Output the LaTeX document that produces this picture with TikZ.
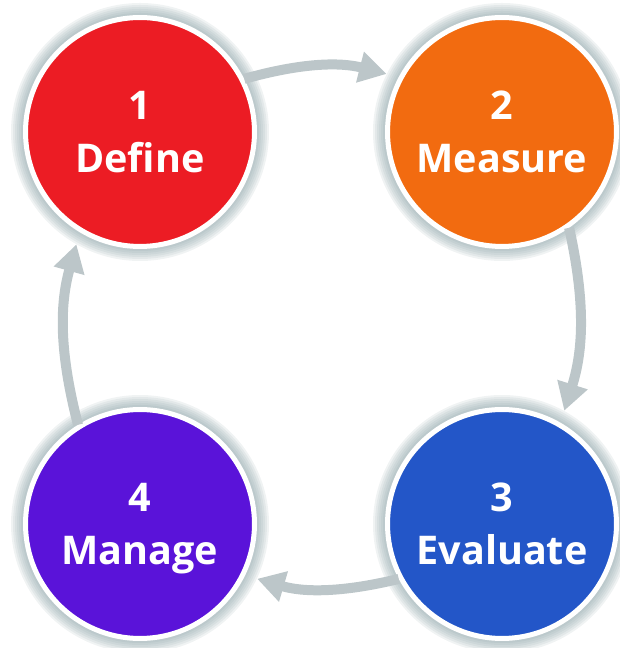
\documentclass[tikz,border=0pt]{standalone}
\usepackage{fontspec}
\setmainfont{Open Sans}
\usetikzlibrary{arrows.meta}

\definecolor{definered}{RGB}{236,28,36}
\definecolor{measureorange}{RGB}{242,107,16}
\definecolor{evaluateblue}{RGB}{35,86,200}
\definecolor{managepurple}{RGB}{90,19,217}
\definecolor{arrowgray}{RGB}{188,198,201}
\definecolor{glowgray}{RGB}{130,155,160}

\tikzset{
  phase/.style={circle, draw=white, line width=0.1cm, minimum size=4.58cm,
    inner sep=0pt, text=white, align=center, text depth=0pt,
    font=\bfseries\fontsize{22.5}{30}\selectfont},
  cyclearrow/.style={draw=arrowgray, line width=0.2cm,
    -{Triangle[length=0.55cm, width=0.6cm]}, shorten >=0.25cm}
}

\begin{document}
\begin{tikzpicture}[x=0.02cm, y=0.02cm]
    \useasboundingbox (0,0) rectangle (619,648);

    % Centres of the four phases
    \coordinate (c1) at (140,516);
    \coordinate (c2) at (502,516);
    \coordinate (c3) at (502,124);
    \coordinate (c4) at (140,124);

    % Soft grey glow round each circle
    \foreach \c in {c1,c2,c3,c4} {
        \foreach \i in {1,...,6} {
            \pgfmathsetmacro{\rad}{117 + \i*2}
            \fill[glowgray, opacity=0.12] (\c) circle[radius=\rad];
        }
    }

    % Phases
    \node[phase, fill=definered] (define) at (c1) {1\\Define};
    \node[phase, fill=measureorange] (measure) at (c2) {2\\Measure};
    \node[phase, fill=evaluateblue] (evaluate) at (c3) {3\\Evaluate};
    \node[phase, fill=managepurple] (manage) at (c4) {4\\Manage};

    % Cycle arrows
    \draw[cyclearrow] (define.27) to[bend left=15] (measure.152);
    \draw[cyclearrow] (measure.-55) to[bend left=15] (evaluate.60);
    \draw[cyclearrow] (evaluate.208) to[bend left=15] (manage.-26);
    \draw[cyclearrow] (manage.122) to[bend left=15] (define.239);
\end{tikzpicture}
\end{document}
